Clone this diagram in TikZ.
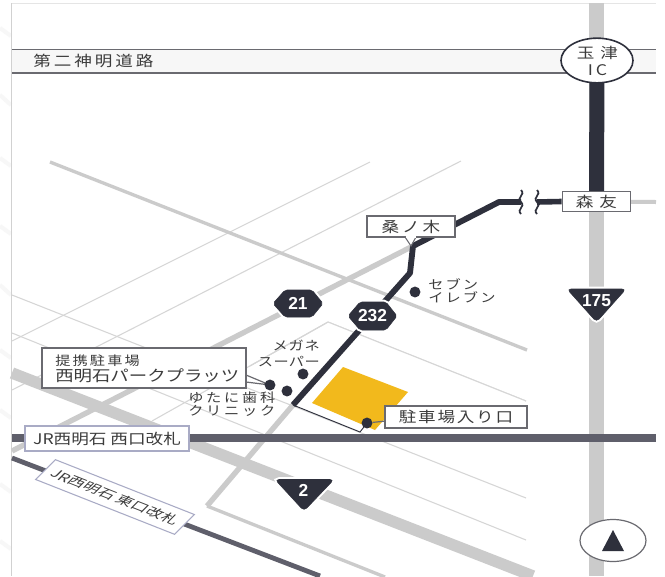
\documentclass[tikz,border=0pt]{standalone}
\usepackage{fontspec}
\usetikzlibrary{shapes.geometric}
\setmainfont{Noto Sans CJK JP}[FakeStretch=1.2]
\newfontfamily\shieldfont{Liberation Sans}[BoldFont=* Bold]
\newcommand{\jpt}[3]{{\fontsize{#1}{#1}\selectfont\addfontfeature{LetterSpace=#2}#3}}
\definecolor{ink}{HTML}{2E303C}
\definecolor{roadgray}{HTML}{CBCBCB}
\definecolor{thingray}{HTML}{D6D6D6}
\definecolor{rail}{HTML}{5F5F6B}
\definecolor{boxline}{HTML}{6A6A70}
\definecolor{railbox}{HTML}{A9ABC5}
\definecolor{lotyellow}{HTML}{F2B91C}
\definecolor{txt}{HTML}{3C3C3C}
\definecolor{faint}{HTML}{F7F7F7}
\tikzset{
  x=0.75pt,y=-0.75pt,
  mainroad/.style={draw=roadgray,line width=8.6pt},
  midroad/.style={draw=roadgray,line width=4pt},
  sideroad/.style={draw=roadgray,line width=2.5pt},
  thinroad/.style={draw=thingray,line width=0.8pt},
  railway/.style={draw=rail,line width=#1},
  route/.style={draw=ink,line width=#1,line join=round},
  breakline/.style={draw=ink,line width=1.3pt},
  label/.style={draw=boxline,fill=white,line width=0.9pt,inner sep=0pt,text=txt,align=center},
  bare/.style={inner sep=0pt,text=txt,align=left},
  spot/.style={circle,fill=ink,inner sep=0pt,minimum size=8.2pt},
  shield/.style={draw=ink,fill=ink,line width=0.4pt,rounded corners=1.5pt,preaction={draw=white,fill=none,line width=3.4pt}},
  num/.style={inner sep=0pt,text=white,font=\shieldfont\bfseries\fontsize{13}{13}\selectfont},
}
\begin{document}
\begin{tikzpicture}
\useasboundingbox (0,0) rectangle (665,576);
\fill[white] (0,0) rectangle (665,576);
% faint stripes of the page margin
\draw[draw=faint,line width=3pt]
  (0,28) -- (11,36) (0,95) -- (11,105) (0,158) -- (11,166) (0,226) -- (11,234)
  (0,285) -- (11,295) (0,350) -- (11,358) (0,410) -- (11,418) (0,484) -- (11,492) (0,541) -- (11,549);
% frame
\draw[draw=black!10,line width=0.7pt] (11.5,3) -- (656,3);
\draw[draw=black!18,line width=1pt] (11.5,3) -- (11.5,576);
% waypoints
\coordinate (rA) at (12,373);
\coordinate (rB) at (533,576);
\coordinate (kuwaJ) at (413,246);
\coordinate (bendA) at (410,273);
\coordinate (lotN) at (293,405);
\coordinate (lotS) at (360,432);
\coordinate (bendB) at (499,202);
\coordinate (wigA) at (521,202);
\coordinate (wigB) at (537,202);
\coordinate (roadEnd) at (207,506);
\coordinate (icC) at (597,60.5);
\coordinate (moritoC) at (596.5,201.5);
% thin streets
\draw[thinroad] (370,162) -- (12,341);
\draw[thinroad] (461,161) -- (12,390);
\draw[thinroad] (328,322) -- (152,421);
\draw[thinroad] (328,322) -- (526,401);
\draw[thinroad] (12,295) -- (526,498);
\draw[thinroad] (12,333) -- (526,540);
% light roads
\draw[mainroad,line width=11.25pt] (596.5,3) -- (596.5,576);
\draw[midroad,line width=3pt] (moritoC) -- (656,202);
\draw[mainroad] (rA) -- (rB);
\draw[midroad] (kuwaJ) -- (12,451);
\draw[sideroad] (50,162) -- (527,350);
\draw[midroad] (lotN) -- (roadEnd);
\draw[sideroad] (roadEnd) -- (385,577);
% rail
\draw[railway=5.6pt] (12,438) -- (656,438);
\draw[railway=3.6pt] (12,458) -- (320,576);
% expressway
\path[fill=black!3] (12,49.5) rectangle (656,73);
\draw[draw=boxline,line width=0.9pt] (12,49.5) -- (656,49.5) (12,73) -- (656,73);
% lot
\fill[white] (lotN) -- (328,322) -- (526,401) -- (430,425) -- (lotS) -- cycle;
\draw[thinroad] (328,322) -- (526,401);
\draw[thinroad] (328,322) -- (250,366);
\fill[lotyellow] (343,367) -- (408,392) -- (375,430) -- (312,403) -- cycle;
\draw[draw=ink,line width=0.7pt] (lotN) -- (lotS) -- (367,423);
% IC and dark routes
\draw[route=11.25pt] (icC) -- (moritoC);
\node[label,minimum width=51.5pt,minimum height=15.5pt] (morito) at (moritoC) {\jpt{11}{40}{森友}};
\draw[route=4.2pt] (morito.west) -- (wigB);
\draw[route=4.4pt] (wigA) -- (bendB) -- (kuwaJ) -- (bendA) -- (lotN);
\draw[breakline] (521,190) .. controls (526,195) and (516,197) .. (521,202) .. controls (526,207) and (516,209) .. (521,214);
\draw[breakline] (537,190) .. controls (542,195) and (532,197) .. (537,202) .. controls (542,207) and (532,209) .. (537,214);
\node[draw=ink,fill=white,line width=1.2pt,ellipse,inner sep=0pt,minimum width=54pt,minimum height=33.5pt,text=txt,align=center] (ic) at (icC) {};
\node[inner sep=0pt,text=txt] (icA) at (597.5,53) {\jpt{11}{40}{玉津}};
\node[inner sep=0pt,text=txt] (icB) at (597.5,70) {\jpt{11}{20}{IC}};
% shields
\draw[shield] (273,303.5) -- (285,290) -- (312,290) -- (323,303.5) -- (312,317) -- (285,317) -- cycle;
\node[num] (s21) at (298,303.5) {21};
\draw[shield] (348,316) -- (360,302) -- (386,302) -- (397,316) -- (386,330) -- (360,330) -- cycle;
\node[num] (s232) at (372.5,316) {232};
\draw[shield,rounded corners=3pt] (567,289) -- (626,289) -- (596.5,322) -- cycle;
\node[num] (s175) at (596.5,300.5) {175};
\draw[shield,rounded corners=3pt] (275,479.5) -- (334,479.5) -- (304,511) -- cycle;
\node[num] (s2) at (303.5,490.5) {2};
% dots
\node[spot] (dSeven) at (415,292) {};
\node[spot] (dMegane) at (303,374) {};
\node[spot] (dYutani) at (287,391) {};
\draw[draw=boxline,fill=white,line width=0.9pt] (246,375) -- (270,385) -- (246,382) -- cycle;
\node[spot] (dPark) at (270,385) {};
\node[spot] (dGate) at (367,423) {};
% labels with leaders
\node[label,minimum width=153pt,minimum height=30pt] (park) at (144,368) {};
\node[inner sep=0pt,text=txt,anchor=west] (parkA) at (55,360.5) {\jpt{9.5}{17}{提携駐車場}};
\node[inner sep=0pt,text=txt,anchor=west] (parkB) at (55,376) {\jpt{11.5}{0}{西明石パークプラッツ}};
\draw[draw=boxline,line width=0.9pt] (dGate) -- (386,421);
\node[label,minimum width=106.5pt,minimum height=16.5pt] (gate) at (456,417) {\jpt{11}{12}{駐車場入り口}};
\node[label,minimum width=66pt,minimum height=15.75pt] (kuwa) at (411,226.5) {\jpt{11}{20}{桑ノ木}};
\draw[draw=boxline,fill=white,line width=0.8pt] (405,237) -- (411,246) -- (416,237);
\draw[draw=white,line width=1.2pt] (405.5,237) -- (415.5,237);
\node[draw=railbox,fill=white,line width=0.9pt,inner sep=0pt,minimum width=123pt,minimum height=18.75pt,text=txt] (west) at (107,438.5) {\jpt{11}{0}{JR西明石 西口改札}};
\begin{scope}[shift={(115,497)},cm={0.93,-0.367,0.707,0.707,(0,0)}]
\node[transform shape,draw=railbox,fill=white,line width=0.8pt,inner sep=0pt,minimum width=112pt,minimum height=21pt,text=txt] (east) at (0,0) {\jpt{10}{0}{JR西明石 東口改札}};
\end{scope}
% bare labels
\node[inner sep=0pt,text=txt,anchor=west] (road) at (33,61) {\jpt{11}{20}{第二神明道路}};
\node[bare,anchor=east] (megA) at (320,346) {\jpt{9.5}{6}{メガネ}};
\node[bare,anchor=east] (megB) at (320,362) {\jpt{9.5}{3}{スーパー}};
\node[bare,anchor=west] (yutA) at (188,398) {\jpt{9.5}{22}{ゆたに歯科}};
\node[bare,anchor=west] (yutB) at (188,411) {\jpt{9.5}{22}{クリニック}};
\node[bare,anchor=west] (sevA) at (428,284) {\jpt{9.5}{17}{セブン}};
\node[bare,anchor=west] (sevB) at (428,297) {\jpt{9.5}{17}{イレブン}};
% north mark
\node[draw=boxline,fill=white,line width=0.9pt,ellipse,inner sep=0pt,minimum width=49.5pt,minimum height=31.5pt] (north) at (613,540.5) {};
\fill[ink] (613,530) -- (624,551) -- (602,551) -- cycle;
\end{tikzpicture}
\end{document}
